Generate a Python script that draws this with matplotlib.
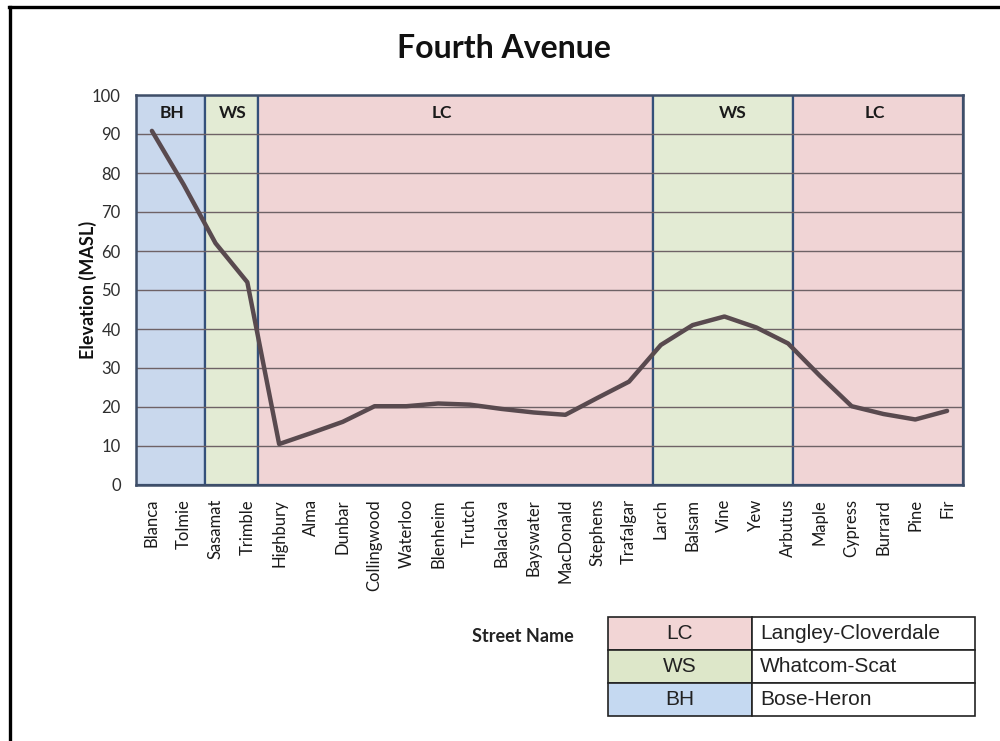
import matplotlib
matplotlib.use('Agg')
import matplotlib.pyplot as plt
from matplotlib.lines import Line2D
from matplotlib.patches import Rectangle

# ---- data ----
streets = ['Blanca', 'Tolmie', 'Sasamat', 'Trimble', 'Highbury', 'Alma', 'Dunbar',
           'Collingwood', 'Waterloo', 'Blenheim', 'Trutch', 'Balaclava', 'Bayswater',
           'MacDonald', 'Stephens', 'Trafalgar', 'Larch', 'Balsam', 'Vine', 'Yew',
           'Arbutus', 'Maple', 'Cypress', 'Burrard', 'Pine', 'Fir']
elevation = [90.8, 77.0, 62.0, 52.0, 10.5, 13.3, 16.2, 20.2, 20.2, 20.9, 20.6, 19.5,
             18.6, 18.0, 22.3, 26.5, 35.9, 41.0, 43.2, 40.4, 36.3, 28.0, 20.2, 18.2,
             16.8, 19.0]

zone_codes = ['BH', 'WS', 'LC', 'WS', 'LC']
zone_edges = [-0.5, 1.67, 3.34, 15.76, 20.16, 25.5]
zone_label_pos = [0.63, 2.55, 9.12, 18.27, 22.74]

legend_codes = ['LC', 'WS', 'BH']
legend_names = ['Langley-Cloverdale', 'Whatcom-Scat', 'Bose-Heron']

yticks = [0, 10, 20, 30, 40, 50, 60, 70, 80, 90, 100]

zone_colors = {'BH': '#c9d8ed', 'WS': '#e3ebd4', 'LC': '#f0d4d5'}
table_colors = {'BH': '#c5d9f1', 'WS': '#dde7c9', 'LC': '#f2d5d5'}

FONT = 'Lato'
plt.rcParams['font.family'] = [FONT, 'DejaVu Sans']

fig = plt.figure(figsize=(10, 7.41), dpi=100)
W, H = 1000, 741

def fx(px):
    return px / W

def fy(py):
    return 1 - py / H

ax = fig.add_axes([fx(136), fy(485), fx(963) - fx(136), fy(95) - fy(485)])
ax.set_xlim(-0.5, len(streets) - 0.5)
ax.set_ylim(0, 100)

# zone bands
for i, code in enumerate(zone_codes):
    ax.axvspan(zone_edges[i], zone_edges[i + 1], facecolor=zone_colors[code],
               edgecolor='#34507a', linewidth=1.6, zorder=0)
    ax.text(zone_label_pos[i], 95.3, code, ha='center', va='center',
            fontsize=12.5, fontweight='bold', color='#1a1a1a', zorder=4)

# gridlines
for yv in yticks[1:-1]:
    ax.axhline(yv, color='#6e6266', linewidth=1.0, zorder=1)

x = list(range(len(streets)))
ax.plot(x, elevation, color='#594a4f', linewidth=3.2, zorder=3,
        solid_joinstyle='round', solid_capstyle='round')

ax.set_yticks(yticks)
ax.set_yticklabels([str(v) for v in yticks], fontsize=12, color='#2e2e2e')
ax.set_xticks(x)
ax.set_xticklabels(streets, rotation=90, fontsize=12, color='#1a1a1a')
ax.tick_params(axis='both', length=0)
ax.tick_params(axis='x', pad=10)
ax.tick_params(axis='y', pad=11)

for s in ax.spines.values():
    s.set_color('#3f4e68')
    s.set_linewidth(1.8)
    s.set_zorder(5)

fig.text(fx(504), fy(48), 'Fourth Avenue', ha='center', va='center',
         fontsize=23, fontweight='bold', color='#111111')
fig.text(fx(88), fy(290), 'Elevation (MASL)', ha='center', va='center',
         rotation=90, fontsize=13, fontweight='bold', color='#111111')
fig.text(fx(523), fy(636), 'Street Name', ha='center', va='center',
         fontsize=13, fontweight='bold', color='#222222')

# legend table
tx0, tx1, tx2 = 608, 752, 975
ty = [617, 650, 683, 716]
for r, code in enumerate(legend_codes):
    top, bot = ty[r], ty[r + 1]
    fig.patches.append(Rectangle((fx(tx0), fy(bot)), fx(tx1) - fx(tx0), fy(top) - fy(bot),
                                 transform=fig.transFigure, facecolor=table_colors[code],
                                 edgecolor='#222222', linewidth=1.2))
    fig.patches.append(Rectangle((fx(tx1), fy(bot)), fx(tx2) - fx(tx1), fy(top) - fy(bot),
                                 transform=fig.transFigure, facecolor='white',
                                 edgecolor='#222222', linewidth=1.2))
    fig.text(fx((tx0 + tx1) / 2), fy((top + bot) / 2), code, ha='center', va='center',
             fontsize=15, family=['Liberation Sans', 'DejaVu Sans'], color='#222222')
    fig.text(fx(tx1 + 8), fy((top + bot) / 2), legend_names[r], ha='left', va='center',
             fontsize=15, family=['Liberation Sans', 'DejaVu Sans'], color='#222222')

# outer frame (left and top edges)
fig.lines.append(Line2D([fx(9.5), fx(9.5)], [fy(7), 0], transform=fig.transFigure,
                        color='black', linewidth=2.4))
fig.lines.append(Line2D([fx(8.5), 1], [fy(7), fy(7)], transform=fig.transFigure,
                        color='black', linewidth=2.4))

fig.savefig('out.png', dpi=100)
